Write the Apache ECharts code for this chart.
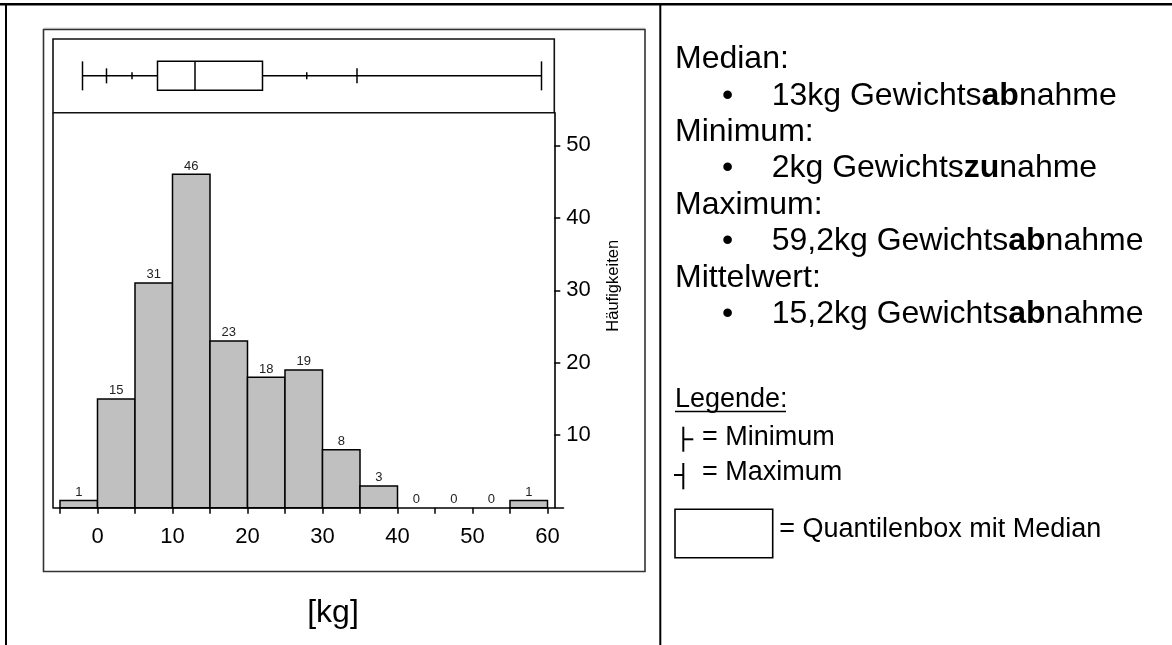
<!DOCTYPE html>
<html><head><meta charset="utf-8">
<script src="https://cdn.jsdelivr.net/npm/echarts@6/dist/echarts.min.js"></script>
<style>html,body{margin:0;padding:0;background:#fff}#c{width:1172px;height:645px}</style>
</head><body><div id="c"></div>
<script>
// ---- data ----
const binStarts = [-5, 0, 5, 10, 15, 20, 25, 30, 35, 40, 45, 50, 55];
const binEnds   = [0, 5, 10, 15, 20, 25, 30, 35, 40, 45, 50, 55, 60];
const counts    = [1, 15, 31, 46, 23, 18, 19, 8, 3, 0, 0, 0, 1];
const xTickValues  = [-5, 0, 5, 10, 15, 20, 25, 30, 35, 40, 45, 50, 55, 60];
const xLabelValues = [0, 10, 20, 30, 40, 50, 60];
const yLabelValues = [10, 20, 30, 40, 50];
const quantileNames  = ['Minimum', '2,5%', '10%', 'Q1', 'Median', 'Q3', '90%', '97,5%', 'Maximum'];
const quantileValues = [-2, 1.2, 4.6, 8, 13, 22, 27.9, 34.6, 59.2];
const xAxisName = '[kg]';
const yAxisName = 'Häufigkeiten';

const FONT = '"Liberation Sans", Arial, sans-serif';
const chart = echarts.init(document.getElementById('c'), null, {renderer: 'canvas'});

const xMin = -5.933, xMax = 62.133;

function boxRender(params, api) {
  const v = quantileValues.map((_, i) => api.value(i));
  const c = v.map(x => api.coord([x, 0.5]));
  const cy = c[0][1];
  const ls = {stroke: '#000', lineWidth: 1.5, fill: null};
  const vline = (x, h) => ({type: 'line', shape: {x1: x, y1: cy - h, x2: x, y2: cy + h}, style: ls});
  const children = [
    {type: 'line', shape: {x1: c[0][0], y1: cy, x2: c[3][0], y2: cy}, style: ls},
    {type: 'line', shape: {x1: c[5][0], y1: cy, x2: c[8][0], y2: cy}, style: ls},
    vline(c[0][0], 14.5), vline(c[8][0], 14.5),
    vline(c[1][0], 7.5), vline(c[7][0], 7.5),
    vline(c[2][0], 3.5), vline(c[6][0], 3.5),
    {type: 'rect', shape: {x: c[3][0], y: cy - 14.5, width: c[5][0] - c[3][0], height: 29}, style: ls},
    vline(c[4][0], 14.5)
  ];
  return {type: 'group', children};
}

function histRender(params, api) {
  const lo = api.value(0), hi = api.value(1), n = api.value(2);
  const p0 = api.coord([lo, n]);
  const p1 = api.coord([hi, 0]);
  return {
    type: 'rect',
    shape: {x: p0[0], y: p0[1], width: p1[0] - p0[0], height: p1[1] - p0[1]},
    style: {fill: n > 0 ? '#c0c0c0' : 'rgba(0,0,0,0)', stroke: n > 0 ? '#000' : 'rgba(0,0,0,0)', lineWidth: 1.5},
    textContent: {style: {text: String(n), fontSize: 13, fontFamily: FONT, fill: '#222'}},
    textConfig: {position: 'top', distance: 1}
  };
}

const T = (x, y, text, size, extra) => Object.assign({
  type: 'text', x, y, silent: true,
  style: Object.assign({text, fontSize: size, fontFamily: FONT, fill: '#000', verticalAlign: 'middle', align: 'left',
    rich: {b: {fontWeight: 'bold', fontSize: size, fontFamily: FONT, fill: '#000'}}}, extra || {})
});
const L = (x1, y1, x2, y2, w, col) => ({type: 'line', silent: true,
  shape: {x1, y1, x2, y2}, style: {stroke: col || '#000', lineWidth: w || 1.5}});

const base = 70.5, step = 36.4, off = 11.1;
const rightLines = [
  ['Median:', 675],
  ['•', 722, '13kg Gewichts{b|ab}nahme'],
  ['Minimum:', 675],
  ['•', 722, '2kg Gewichts{b|zu}nahme'],
  ['Maximum:', 675],
  ['•', 722, '59,2kg Gewichts{b|ab}nahme'],
  ['Mittelwert:', 675],
  ['•', 722, '15,2kg Gewichts{b|ab}nahme']
];
const graphics = [];
// table borders
graphics.push(L(0, 4.3, 1172, 4.3, 2.5));
graphics.push(L(6, 3, 6, 645, 2));
graphics.push(L(660.3, 3, 660.3, 645, 2));
// outer chart frame
graphics.push({type: 'rect', silent: true, shape: {x: 43.5, y: 29.5, width: 601.5, height: 542}, style: {fill: null, stroke: '#333', lineWidth: 1.6}});
graphics.push(L(44, 28.3, 645, 28.3, 1, '#aaa'));
// inner frame (box panel + left side of histogram)
graphics.push({type: 'rect', silent: true, shape: {x: 53, y: 39, width: 501.3, height: 73.7}, style: {fill: null, stroke: '#111', lineWidth: 1.6}});
graphics.push(L(53, 112.7, 53, 507.7, 1.6, '#111'));
// axis name texts
graphics.push(T(333, 613, xAxisName, 32, {align: 'center'}));
graphics.push({type: 'text', silent: true, x: 613.3, y: 285.8, rotation: Math.PI / 2,
  style: {text: yAxisName, fontSize: 16.5, fontFamily: FONT, fill: '#000', align: 'center', verticalAlign: 'middle'}});
// right text block
rightLines.forEach((r, i) => {
  const y = base + i * step - off;
  if (r.length === 2) graphics.push(T(r[1], y, r[0], 32));
  else { graphics.push(T(r[1], y, r[0], 32)); graphics.push(T(771.7, y, r[2], 32)); }
});
// legend
const lo27 = 9.4;
graphics.push(T(675, 408.5 - lo27, 'Legende:', 27));
graphics.push(L(675, 411.5, 786, 411.5, 1.3));
graphics.push(L(683.3, 426.7, 683.3, 451.7, 2));
graphics.push(L(683.3, 439.3, 693.3, 439.3, 2));
graphics.push(T(702, 447 - lo27, '= Minimum', 27));
graphics.push(L(683.3, 463, 683.3, 489.3, 2));
graphics.push(L(674, 475, 683.3, 475, 2));
graphics.push(T(702, 482 - lo27, '= Maximum', 27));
graphics.push({type: 'rect', silent: true, shape: {x: 675, y: 509.3, width: 97.7, height: 48.4}, style: {fill: null, stroke: '#000', lineWidth: 1.6}});
graphics.push(T(779.3, 539 - lo27, '= Quantilenbox mit Median', 27));

const option = {
  animation: false,
  backgroundColor: '#fff',
  textStyle: {fontFamily: FONT},
  grid: [
    {left: 53, top: 39, width: 510.5, height: 73.7},
    {left: 53, top: 112.7, width: 510.5, height: 395}
  ],
  xAxis: [
    {gridIndex: 0, type: 'value', min: xMin, max: xMax, show: false},
    {gridIndex: 1, type: 'value', min: xMin, max: xMax,
      axisLine: {show: true, onZero: false, lineStyle: {color: '#000', width: 1.6}},
      axisTick: {show: true, customValues: xTickValues, length: 6, lineStyle: {color: '#000', width: 1.5}},
      axisLabel: {customValues: xLabelValues, fontSize: 22, color: '#000', margin: 18, fontFamily: FONT},
      splitLine: {show: false}}
  ],
  yAxis: [
    {gridIndex: 0, type: 'value', min: 0, max: 1, show: false},
    {gridIndex: 1, type: 'value', position: 'right', offset: -9.2, min: 0, max: 54.5,
      axisLine: {show: true, onZero: false, lineStyle: {color: '#000', width: 1.6}},
      axisTick: {show: true, customValues: yLabelValues, length: 6, lineStyle: {color: '#000', width: 1.5}},
      axisLabel: {customValues: yLabelValues, fontSize: 22, color: '#000', margin: 12, fontFamily: FONT, padding: [7, 0, 0, 0]},
      splitLine: {show: false}}
  ],
  series: [
    {type: 'custom', name: 'Quantile', xAxisIndex: 0, yAxisIndex: 0,
      data: [quantileValues], encode: {x: quantileNames.map((_, i) => i)},
      renderItem: boxRender, silent: true},
    {type: 'custom', name: yAxisName, xAxisIndex: 1, yAxisIndex: 1,
      data: binStarts.map((s, i) => [s, binEnds[i], counts[i]]),
      encode: {x: [0, 1], y: 2}, renderItem: histRender, silent: true, clip: false}
  ],
  graphic: graphics
};
chart.setOption(option);
</script></body></html>
